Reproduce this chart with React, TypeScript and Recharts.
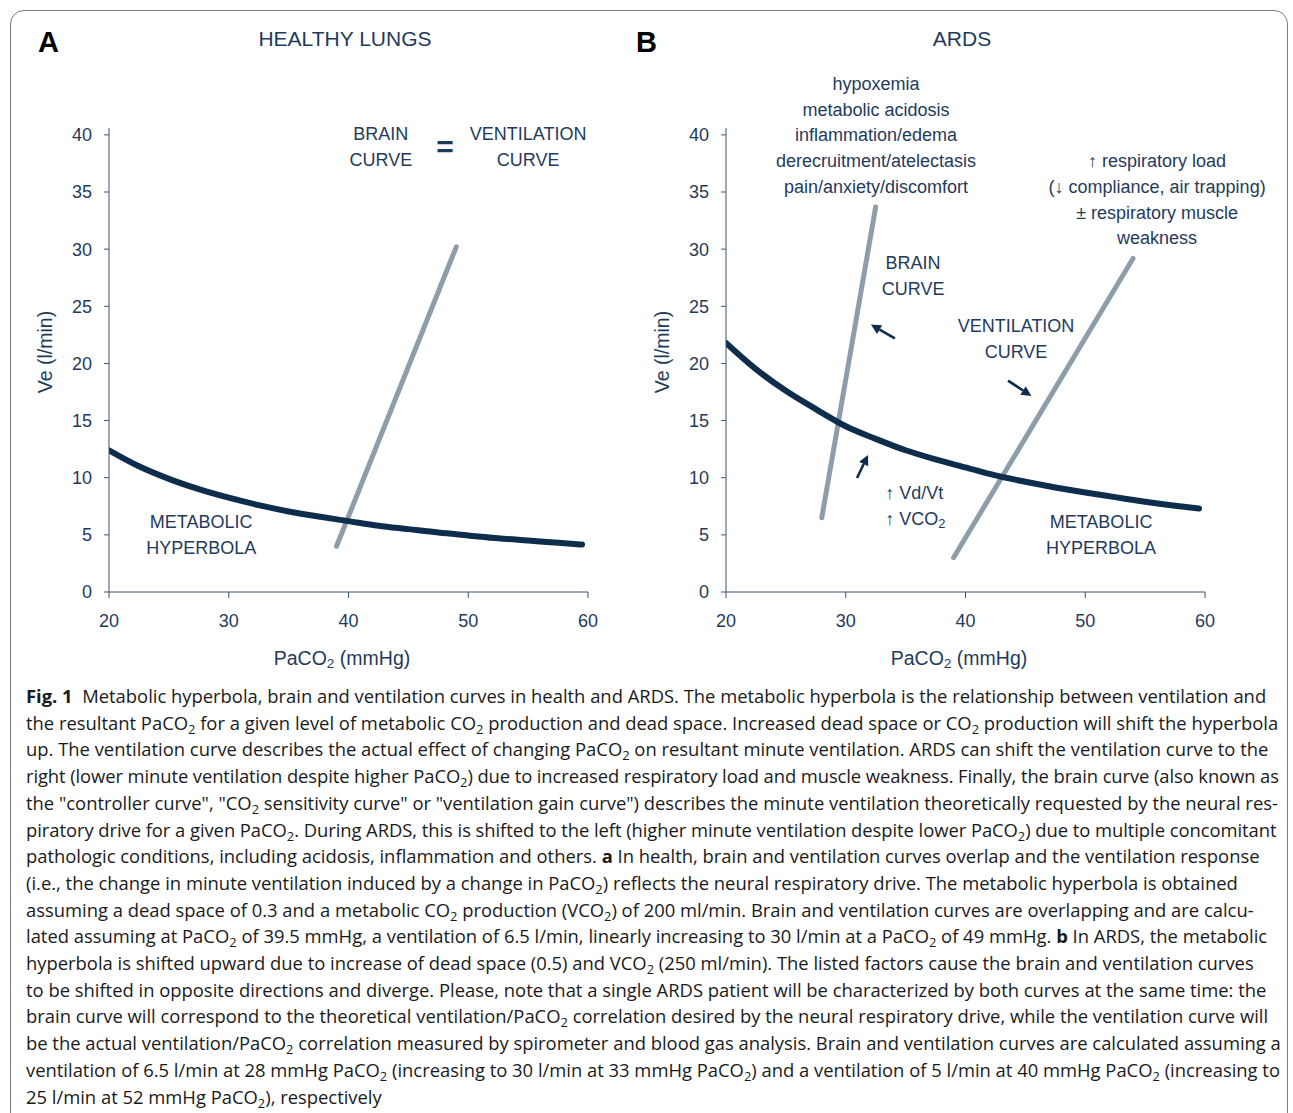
import { LineChart, Line, XAxis, YAxis, ReferenceDot, ReferenceLine } from 'recharts';

// PaCO2 values used for the metabolic hyperbolas
const paco2 = [20, 22.5, 25, 27.5, 30, 32.5, 35, 37.5, 40, 42.5, 45, 47.5, 50, 52.5, 55, 57.5, 59.5];
// Ve (healthy) and panel B (ARDS)
const healthyVe = [12.4, 11.0, 9.9, 9.0, 8.25, 7.6, 7.05, 6.6, 6.2, 5.8, 5.5, 5.2, 4.95, 4.7, 4.5, 4.3, 4.15];
const ardsVe = [21.8, 19.5, 17.6, 16.0, 14.5, 13.4, 12.4, 11.6, 10.9, 10.2, 9.65, 9.15, 8.7, 8.3, 7.9, 7.55, 7.3];

// straight brain / ventilation curves (end points)
const healthyBrainX = [39, 49];
const healthyBrainY = [4, 30.2];
const ardsBrainX = [28, 32.5];
const ardsBrainY = [6.5, 33.7];
const ardsVentX = [39, 54];
const ardsVentY = [3, 29.2];

const xTicks = [20, 30, 40, 50, 60];
const yTicks = [0, 5, 10, 15, 20, 25, 30, 35, 40];

const zip = (xs: number[], ys: number[]) => xs.map((x, i) => ({ x, y: ys[i] }));

const INK = '#1f3b5b';
const NAVY = '#0e2d4c';
const GREY = '#8e9dac';
const FONT = '"Liberation Sans", Arial, Helvetica, sans-serif';

type Note = { x: number; y: number; lines: string[]; anchor?: 'start' | 'middle' | 'end'; size?: number; bold?: boolean };

const healthyNotes: Note[] = [
  { x: 42.7, y: 40.1, lines: ['BRAIN', 'CURVE'] },
  { x: 48.06, y: 38.95, lines: ['='], size: 30, bold: true },
  { x: 55.0, y: 40.1, lines: ['VENTILATION', 'CURVE'] },
  { x: 27.7, y: 6.13, lines: ['METABOLIC', 'HYPERBOLA'] },
];

const ardsNotes: Note[] = [
  { x: 32.53, y: 44.46, lines: ['hypoxemia', 'metabolic acidosis', 'inflammation/edema', 'derecruitment/atelectasis', 'pain/anxiety/discomfort'] },
  { x: 35.62, y: 28.8, lines: ['BRAIN', 'CURVE'] },
  { x: 44.22, y: 23.28, lines: ['VENTILATION', 'CURVE'] },
  { x: 51.32, y: 6.13, lines: ['METABOLIC', 'HYPERBOLA'] },
  { x: 33.3, y: 8.67, lines: ['↑ Vd/Vt', '↑ VCO|2'], anchor: 'start' },
  { x: 56.0, y: 37.72, lines: ['↑ respiratory load', '(↓ compliance, air trapping)', '± respiratory muscle', 'weakness'] },
];

// arrows: [fromX, fromY, toX, toY]
const ardsArrows = [
  [34.1, 22.2, 32.1, 23.4],
  [43.55, 18.5, 45.5, 17.15],
  [30.94, 9.98, 31.86, 11.99],
];

function renderLine(text: string) {
  // "|" marks a subscript
  const parts = text.split('|');
  if (parts.length === 1) return text;
  return [
    <tspan key="a">{parts[0]}</tspan>,
    <tspan key="b" fontSize="0.72em" dy="0.3em">{parts[1]}</tspan>,
  ];
}

const noteShape = (note: Note) => (p: any) => {
  const size = note.size ?? 18;
  return (
    <g>
      {note.lines.map((l, i) => (
        <text
          key={i}
          x={p.cx}
          y={p.cy + i * 25.8}
          textAnchor={note.anchor ?? 'middle'}
          dominantBaseline="central"
          fontSize={size}
          fontWeight={note.bold ? 700 : 400}
          fontFamily={FONT}
          fill={INK}
        >
          {renderLine(l)}
        </text>
      ))}
    </g>
  );
};

const arrowShape = (p: any) => {
  const { x1, y1, x2, y2 } = p;
  const ang = Math.atan2(y2 - y1, x2 - x1);
  const L = 10;
  const W = 5;
  const bx = x2 - L * Math.cos(ang);
  const by = y2 - L * Math.sin(ang);
  const nx = -Math.sin(ang) * W;
  const ny = Math.cos(ang) * W;
  return (
    <g>
      <line x1={x1} y1={y1} x2={bx} y2={by} stroke={NAVY} strokeWidth={2.6} />
      <polygon points={`${x2},${y2} ${bx + nx},${by + ny} ${bx - nx},${by - ny}`} fill={NAVY} />
    </g>
  );
};

function Panel({
  left, letter, letterLeft, title, hyperbola, straight, notes, arrows,
}: {
  left: number; letter: string; letterLeft: number; title: string; hyperbola: { x: number; y: number }[];
  straight: { x: number; y: number }[][]; notes: Note[]; arrows: number[][];
}) {
  return (
    <div style={{ position: 'absolute', left, top: 0, width: 700, height: 700 }}>
      <div style={{ position: 'absolute', left: letterLeft, top: 26, fontFamily: FONT, fontWeight: 700, fontSize: 29, color: '#000' }}>{letter}</div>
      <div style={{ position: 'absolute', left: 345 - 200, width: 400, top: 27, textAlign: 'center', fontFamily: FONT, fontSize: 21, color: INK }}>{title}</div>
      <div
        style={{
          position: 'absolute', left: 45 - 100, top: 352 - 12, width: 200, height: 24, lineHeight: '24px', textAlign: 'center',
          transform: 'rotate(-90deg)', fontFamily: FONT, fontSize: 19.5, color: INK,
        }}
      >
        Ve (l/min)
      </div>
      <div style={{ position: 'absolute', left: 342 - 150, width: 300, top: 647, textAlign: 'center', fontFamily: FONT, fontSize: 19.5, color: INK }}>
        PaCO<sub style={{ fontSize: '0.7em', verticalAlign: '-0.25em', lineHeight: 0 }}>2</sub> (mmHg)
      </div>
      <LineChart width={700} height={700} margin={{ top: 128, right: 112, bottom: 38, left: 49 }} style={{ fontFamily: FONT }}>
        <XAxis
          type="number"
          dataKey="x"
          domain={[20, 60]}
          ticks={xTicks}
          allowDataOverflow
          height={70}
          tickSize={6}
          tickMargin={16}
          stroke="#3a536e"
          tick={{ fill: INK, fontSize: 18 }}
        />
        <YAxis
          type="number"
          dataKey="y"
          domain={[0, 40.6]}
          ticks={yTicks}
          allowDataOverflow
          width={60}
          tickSize={5}
          tickMargin={12}
          stroke="#3a536e"
          tick={{ fill: INK, fontSize: 18 }}
        />
        {straight.map((seg, i) => (
          <Line
            key={i}
            data={seg}
            dataKey="y"
            type="linear"
            stroke={GREY}
            strokeWidth={5}
            strokeLinecap="round"
            dot={false}
            activeDot={false}
            isAnimationActive={false}
          />
        ))}
        <Line
          data={hyperbola}
          dataKey="y"
          type="monotone"
          stroke={NAVY}
          strokeWidth={6}
          strokeLinecap="round"
          dot={false}
          activeDot={false}
          isAnimationActive={false}
        />
        {arrows.map((a, i) => (
          <ReferenceLine key={`a${i}`} segment={[{ x: a[0], y: a[1] }, { x: a[2], y: a[3] }]} ifOverflow="visible" shape={arrowShape} />
        ))}
        {notes.map((n, i) => (
          <ReferenceDot key={`n${i}`} x={n.x} y={n.y} r={0} ifOverflow="visible" shape={noteShape(n)} />
        ))}
      </LineChart>
    </div>
  );
}

const S = ({ children }: { children: any }) => (
  <sub style={{ fontSize: '0.7em', verticalAlign: '-0.3em', lineHeight: 0 }}>{children}</sub>
);

const captionLines = [
  <><b>Fig. 1</b>&nbsp; Metabolic hyperbola, brain and ventilation curves in health and ARDS. The metabolic hyperbola is the relationship between ventilation and</>,
  <>the resultant PaCO<S>2</S> for a given level of metabolic CO<S>2</S> production and dead space. Increased dead space or CO<S>2</S> production will shift the hyperbola</>,
  <>up. The ventilation curve describes the actual effect of changing PaCO<S>2</S> on resultant minute ventilation. ARDS can shift the ventilation curve to the</>,
  <>right (lower minute ventilation despite higher PaCO<S>2</S>) due to increased respiratory load and muscle weakness. Finally, the brain curve (also known as</>,
  <>the "controller curve", "CO<S>2</S> sensitivity curve" or "ventilation gain curve") describes the minute ventilation theoretically requested by the neural res-</>,
  <>piratory drive for a given PaCO<S>2</S>. During ARDS, this is shifted to the left (higher minute ventilation despite lower PaCO<S>2</S>) due to multiple concomitant</>,
  <>pathologic conditions, including acidosis, inflammation and others. <b>a</b> In health, brain and ventilation curves overlap and the ventilation response</>,
  <>(i.e., the change in minute ventilation induced by a change in PaCO<S>2</S>) reflects the neural respiratory drive. The metabolic hyperbola is obtained</>,
  <>assuming a dead space of 0.3 and a metabolic CO<S>2</S> production (VCO<S>2</S>) of 200 ml/min. Brain and ventilation curves are overlapping and are calcu-</>,
  <>lated assuming at PaCO<S>2</S> of 39.5 mmHg, a ventilation of 6.5 l/min, linearly increasing to 30 l/min at a PaCO<S>2</S> of 49 mmHg. <b>b</b> In ARDS, the metabolic</>,
  <>hyperbola is shifted upward due to increase of dead space (0.5) and VCO<S>2</S> (250 ml/min). The listed factors cause the brain and ventilation curves</>,
  <>to be shifted in opposite directions and diverge. Please, note that a single ARDS patient will be characterized by both curves at the same time: the</>,
  <>brain curve will correspond to the theoretical ventilation/PaCO<S>2</S> correlation desired by the neural respiratory drive, while the ventilation curve will</>,
  <>be the actual ventilation/PaCO<S>2</S> correlation measured by spirometer and blood gas analysis. Brain and ventilation curves are calculated assuming a</>,
  <>ventilation of 6.5 l/min at 28 mmHg PaCO<S>2</S> (increasing to 30 l/min at 33 mmHg PaCO<S>2</S>) and a ventilation of 5 l/min at 40 mmHg PaCO<S>2</S> (increasing to</>,
  <>25 l/min at 52 mmHg PaCO<S>2</S>), respectively</>,
];

// small per-line tracking so the long lines stay inside the frame
const captionTracking: Record<number, number> = { 3: -0.09, 5: -0.05 };

export default function App() {
  return (
    <div style={{ position: 'absolute', left: 0, top: 0, width: 1293, height: 1113, overflow: 'hidden', background: '#fff' }}>
      <div
        style={{
          position: 'absolute', left: 10, top: 10, width: 1278, height: 1140, boxSizing: 'border-box',
          border: '1.5px solid #7a7a7a', borderRadius: 14,
        }}
      />
      <Panel
        left={0}
        letter="A"
        letterLeft={38}
        title="HEALTHY LUNGS"
        hyperbola={zip(paco2, healthyVe)}
        straight={[zip(healthyBrainX, healthyBrainY)]}
        notes={healthyNotes}
        arrows={[]}
      />
      <Panel
        left={617}
        letter="B"
        letterLeft={19}
        title="ARDS"
        hyperbola={zip(paco2, ardsVe)}
        straight={[zip(ardsBrainX, ardsBrainY), zip(ardsVentX, ardsVentY)]}
        notes={ardsNotes}
        arrows={ardsArrows}
      />
      <div style={{ position: 'absolute', left: 26, top: 683, fontFamily: '"Open Sans", "Noto Sans", sans-serif', fontSize: 18.4, lineHeight: '26.7px', color: '#1a1a1a' }}>
        {captionLines.map((l, i) => (
          <div key={i} style={{ whiteSpace: 'nowrap', letterSpacing: captionTracking[i] ?? 0 }}>{l}</div>
        ))}
      </div>
    </div>
  );
}
